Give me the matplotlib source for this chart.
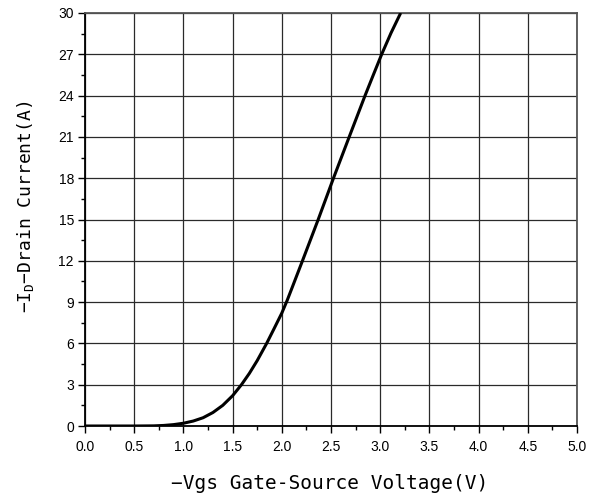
import matplotlib
matplotlib.use("Agg")
import matplotlib.pyplot as plt
from matplotlib.ticker import MultipleLocator

vgs = [0.0, 0.5, 0.7, 0.8, 0.9, 1.0, 1.1, 1.2, 1.3, 1.4, 1.5, 1.59, 1.67, 1.75, 1.846, 1.92, 2.0, 2.056, 2.1, 2.21, 2.37, 2.525, 2.685, 2.846, 2.93, 3.015, 3.11, 3.208]
id_a = [0.0, 0.0, 0.01, 0.04, 0.1, 0.2, 0.36, 0.6, 0.98, 1.5, 2.2, 3.0, 3.82, 4.75, 6.0, 7.05, 8.2, 9.15, 9.96, 12.0, 15.0, 18.0, 21.0, 24.0, 25.5, 27.0, 28.55, 30.0]

xticks = [0.0, 0.5, 1.0, 1.5, 2.0, 2.5, 3.0, 3.5, 4.0, 4.5, 5.0]
yticks = [0, 3, 6, 9, 12, 15, 18, 21, 24, 27, 30]

W, H = 599, 497
fig = plt.figure(figsize=(W / 100, H / 100), dpi=100)
ax = fig.add_axes([85 / W, 1 - 426 / H, (577 - 85) / W, (426 - 13) / H])

ax.plot(vgs, id_a, color="black", linewidth=2.2, solid_capstyle="butt",
        solid_joinstyle="round", zorder=3)

ax.set_xlim(0, 5)
ax.set_ylim(0, 30)
ax.set_xticks(xticks)
ax.set_xticklabels([f"{v:.1f}" for v in xticks], fontfamily="Liberation Sans", fontsize=10)
ax.set_yticks(yticks)
ax.set_yticklabels([str(v) for v in yticks], fontfamily="Liberation Sans", fontsize=10)
ax.xaxis.set_minor_locator(MultipleLocator(0.25))
ax.yaxis.set_minor_locator(MultipleLocator(1.5))
ax.tick_params(axis="both", which="major", direction="out", length=5, width=1, color="black")
ax.tick_params(axis="x", which="major", pad=5)
ax.tick_params(axis="y", which="major", pad=3)
ax.tick_params(axis="both", which="minor", direction="out", length=3, width=1, color="black")
ax.grid(True, which="major", color="#2a2a2a", linewidth=0.9)
for s in ax.spines.values():
    s.set_linewidth(1.3)
    s.set_color("#555555")
ax.spines["bottom"].set_color("black")
ax.spines["left"].set_color("black")

fig.text(330 / W, 1 - 483.5 / H, "−Vgs Gate-Source Voltage(V)", fontfamily="DejaVu Sans Mono",
         fontsize=14, ha="center", va="center")
fig.text(26 / W, 1 - 207 / H, "−I$_\\mathregular{D}$−Drain Current(A)", fontfamily="DejaVu Sans Mono",
         fontsize=13, ha="center", va="center", rotation=90)

fig.savefig("out.png", dpi=100)
